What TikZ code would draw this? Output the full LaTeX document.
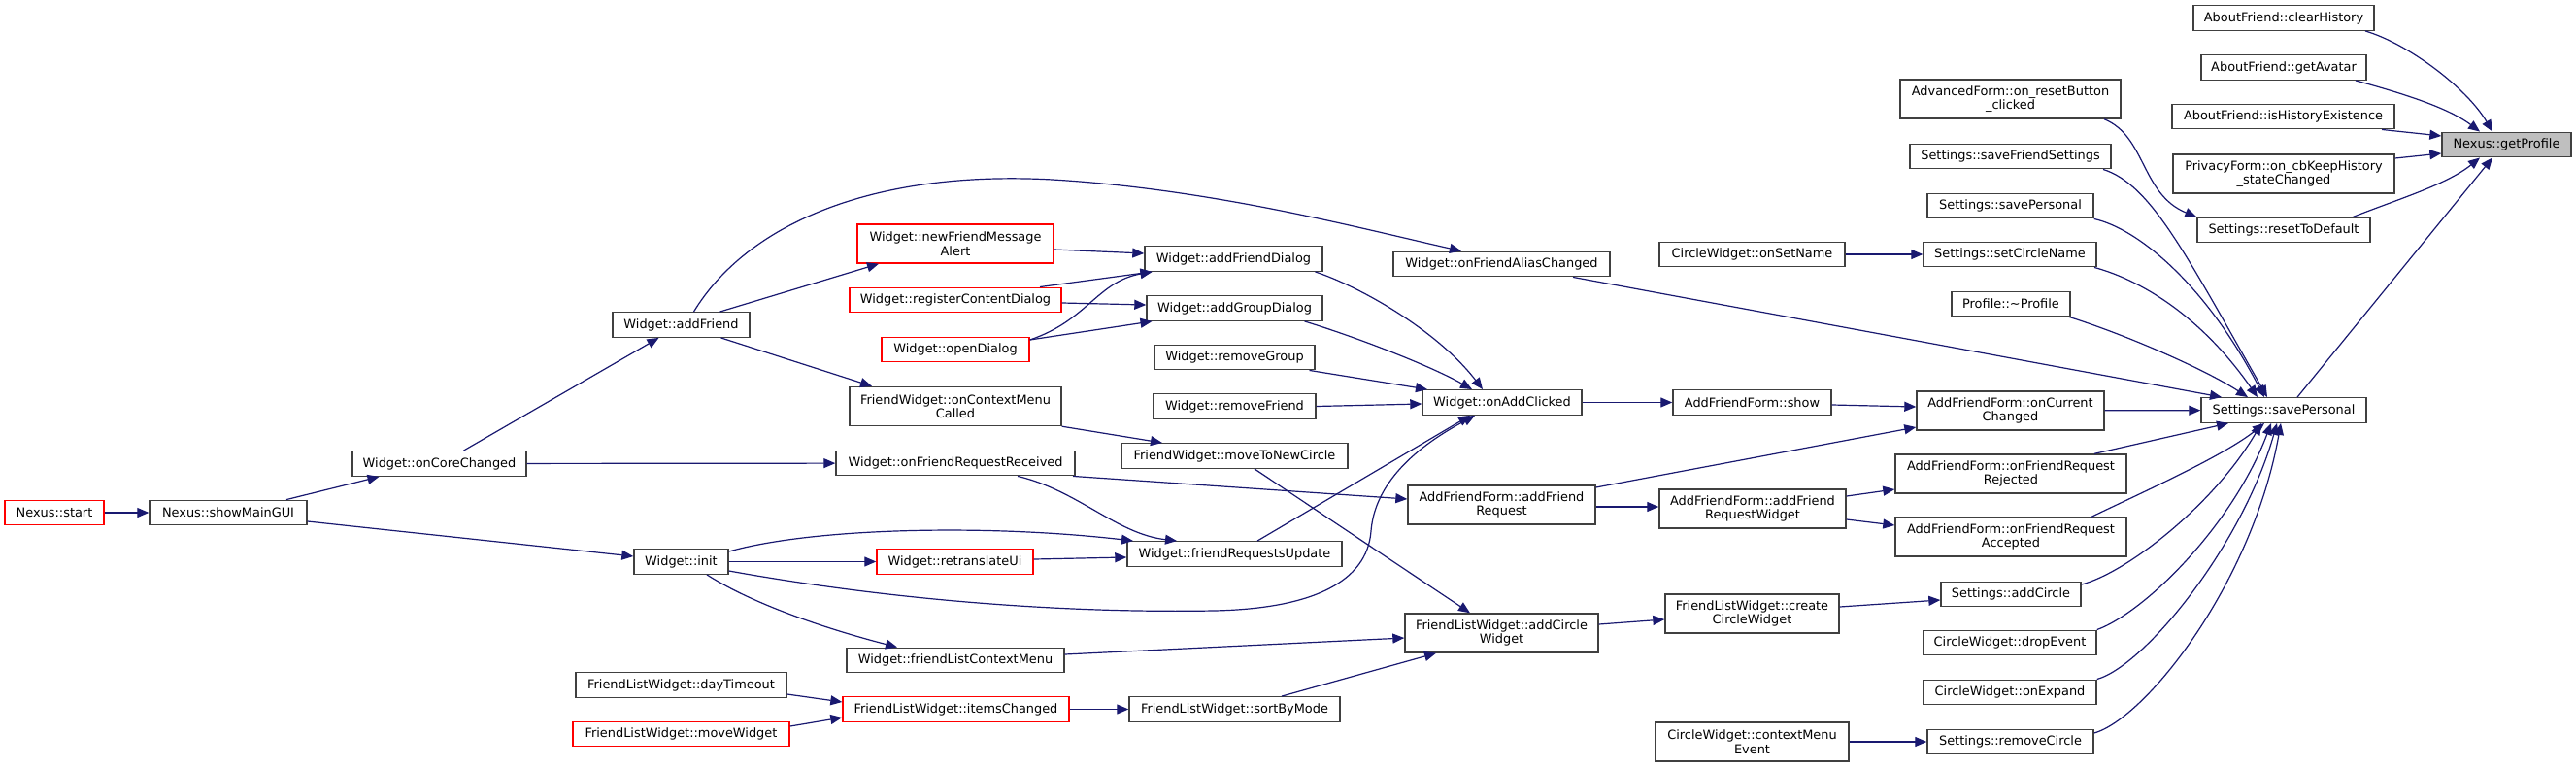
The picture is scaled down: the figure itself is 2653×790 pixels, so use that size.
\documentclass[tikz,border=0pt]{standalone}
\usepackage{fontspec}
\setmainfont{DejaVu Sans}
\usetikzlibrary{arrows.meta}
\definecolor{edgecol}{HTML}{191970}
\definecolor{nodeborder}{HTML}{404040}
\definecolor{hlfill}{HTML}{BFBFBF}
\begin{document}
\begin{tikzpicture}[x=1pt,y=-1pt,
  fn/.style={draw=nodeborder, fill=white, line width=1.4pt, inner sep=0pt, align=center, font=\fontsize{12.9}{14.5}\selectfont},
  fnred/.style={fn, draw=red},
  fnhl/.style={fn, fill=hlfill},
  sone/.style={minimum height=25.5pt},
  stwo/.style={minimum height=40pt},
  call/.style={draw=edgecol, line width=1.2pt, -{Triangle[length=12pt,width=10pt]}},
]
\useasboundingbox[fill=white] (0,0) rectangle (2653,790);

% column 1-4
\node[fnred,sone,minimum width=102] (start) at (56,528) {Nexus::start};
\node[fn,sone,minimum width=162] (showmain) at (235,528) {Nexus::showMainGUI};
\node[fn,sone,minimum width=179] (corechg) at (452.5,477.5) {Widget::onCoreChanged};
\node[fn,sone,minimum width=141] (addfriend) at (701.5,334.5) {Widget::addFriend};
\node[fn,sone,minimum width=97] (init) at (701.5,578.5) {Widget::init};
\node[fn,sone,minimum width=217] (daytimeout) at (701.5,705.5) {FriendListWidget::dayTimeout};
\node[fnred,sone,minimum width=223] (movewidget) at (701.5,756) {FriendListWidget::moveWidget};
% column 5
\node[fnred,stwo,minimum width=202] (newfma) at (984,251) {Widget::newFriendMessage\\Alert};
\node[fnred,sone,minimum width=218] (regcd) at (984,309) {Widget::registerContentDialog};
\node[fnred,sone,minimum width=152] (opendlg) at (984,360) {Widget::openDialog};
\node[fn,stwo,minimum width=218] (oncmc) at (984,418.5) {FriendWidget::onContextMenu\\Called};
\node[fn,sone,minimum width=246] (onfrr) at (984,477) {Widget::onFriendRequestReceived};
\node[fnred,sone,minimum width=161] (retrans) at (983.5,578.5) {Widget::retranslateUi};
\node[fn,sone,minimum width=224] (flcm) at (984,680) {Widget::friendListContextMenu};
\node[fnred,sone,minimum width=233] (itemschg) at (984.5,730.5) {FriendListWidget::itemsChanged};
% column 6
\node[fn,sone,minimum width=183] (afdlg) at (1270.5,266.5) {Widget::addFriendDialog};
\node[fn,sone,minimum width=181] (agdlg) at (1271.5,317.5) {Widget::addGroupDialog};
\node[fn,sone,minimum width=165] (rmgroup) at (1271.5,368) {Widget::removeGroup};
\node[fn,sone,minimum width=167] (rmfriend) at (1271.5,418.5) {Widget::removeFriend};
\node[fn,sone,minimum width=233] (movetonc) at (1271.5,469.5) {FriendWidget::moveToNewCircle};
\node[fn,sone,minimum width=221] (fru) at (1271.5,570.5) {Widget::friendRequestsUpdate};
\node[fn,sone,minimum width=217] (sortmode) at (1271.5,730.5) {FriendListWidget::sortByMode};
% column 7
\node[fn,sone,minimum width=223] (onfac) at (1546.5,272) {Widget::onFriendAliasChanged};
\node[fn,sone,minimum width=164] (onaddclk) at (1547,414.5) {Widget::onAddClicked};
\node[fn,stwo,minimum width=193] (afreq) at (1546.5,520) {AddFriendForm::addFriend\\Request};
\node[fn,stwo,minimum width=199] (addcw) at (1546.5,652) {FriendListWidget::addCircle\\Widget};
% column 8
\node[fn,sone,minimum width=191] (onsetname) at (1804.5,262) {CircleWidget::onSetName};
\node[fn,sone,minimum width=163] (afshow) at (1804.5,414.5) {AddFriendForm::show};
\node[fn,stwo,minimum width=192] (afrw) at (1805,524) {AddFriendForm::addFriend\\RequestWidget};
\node[fn,stwo,minimum width=179] (createcw) at (1804.5,632) {FriendListWidget::create\\CircleWidget};
\node[fn,stwo,minimum width=199] (cmevent) at (1804.5,764) {CircleWidget::contextMenu\\Event};
% column 9
\node[fn,stwo,minimum width=227] (advreset) at (2070.5,102) {AdvancedForm::on\_resetButton\\\_clicked};
\node[fn,sone,minimum width=207] (savefs) at (2070.5,161) {Settings::saveFriendSettings};
\node[fn,sone,minimum width=171] (savepu) at (2070.5,212) {Settings::savePersonal};
\node[fn,sone,minimum width=178] (setcn) at (2070,262) {Settings::setCircleName};
\node[fn,sone,minimum width=122] (profile) at (2071,313) {Profile::\textasciitilde Profile};
\node[fn,stwo,minimum width=193] (oncurchg) at (2070.5,423) {AddFriendForm::onCurrent\\Changed};
\node[fn,stwo,minimum width=238] (rejected) at (2071,488) {AddFriendForm::onFriendRequest\\Rejected};
\node[fn,stwo,minimum width=238] (accepted) at (2071,553) {AddFriendForm::onFriendRequest\\Accepted};
\node[fn,sone,minimum width=144] (addcircle) at (2071,612) {Settings::addCircle};
\node[fn,sone,minimum width=178] (dropev) at (2070,662) {CircleWidget::dropEvent};
\node[fn,sone,minimum width=178] (onexpand) at (2070,713) {CircleWidget::onExpand};
\node[fn,sone,minimum width=171] (rmcircle) at (2070.5,764) {Settings::removeCircle};
% column 10
\node[fn,sone,minimum width=186] (clearhist) at (2352,18.5) {AboutFriend::clearHistory};
\node[fn,sone,minimum width=170] (getavatar) at (2352,69.5) {AboutFriend::getAvatar};
\node[fn,sone,minimum width=229] (ishist) at (2351.5,120) {AboutFriend::isHistoryExistence};
\node[fn,stwo,minimum width=228] (privacy) at (2352,179) {PrivacyForm::on\_cbKeepHistory\\\_stateChanged};
\node[fn,sone,minimum width=178] (resetdef) at (2352,237) {Settings::resetToDefault};
\node[fn,sone,minimum width=170] (savep) at (2352,422.5) {Settings::savePersonal};
% column 11
\node[fnhl,sone,minimum width=133] (getprofile) at (2581.5,149) {Nexus::getProfile};

% edges
\draw[call] (start) -- (showmain);
\draw[call] ([xshift=60]showmain.north) -- ([xshift=-62]corechg.south);
\draw[call] ([yshift=-9]showmain.east) -- ([yshift=5.5]init.west);
\draw[call] ([xshift=25]corechg.north) -- ([xshift=-23]addfriend.south);
\draw[call] (corechg) -- (onfrr);
\draw[call] ([xshift=13]addfriend.north) .. controls (770,230) and (900,175) .. (1084,185) .. controls (1250,195) and (1400,235) .. ([xshift=-41.5]onfac.north);
\draw[call] ([xshift=40]addfriend.north) -- ([xshift=-79]newfma.south);
\draw[call] ([xshift=41]addfriend.south) -- ([xshift=-86]oncmc.north);
\draw[call] ([yshift=-6]newfma.east) -- ([yshift=5.5]afdlg.west);
\draw[call] ([xshift=87]regcd.north) -- ([xshift=-84]afdlg.south);
\draw[call] ([yshift=-3]regcd.east) -- ([yshift=3.5]agdlg.west);
\draw[call] ([yshift=10]opendlg.east) .. controls (1120,330) and (1130,290) .. ([xshift=-84]afdlg.south);
\draw[call] ([yshift=10]opendlg.east) -- ([xshift=-85]agdlg.south);
\draw[call] ([xshift=84]afdlg.south) .. controls (1400,295) and (1480,340) .. ([xshift=-20]onaddclk.north);
\draw[call] ([xshift=72]agdlg.south) .. controls (1390,345) and (1470,375) .. ([xshift=-31]onaddclk.north);
\draw[call] ([xshift=77]rmgroup.south) -- ([xshift=-77]onaddclk.north);
\draw[call] (rmfriend.east) -- ([yshift=-1.5]onaddclk.west);
\draw[call] (oncmc.south east) -- ([xshift=-74.5]movetonc.north);
\draw[call] ([xshift=121]onfrr.south) -- ([yshift=6]afreq.west);
\draw[call] ([xshift=64]onfrr.south) .. controls (1110,505) and (1150,550) .. ([xshift=-59.5]fru.north);
\draw[call] ([xshift=20.5]movetonc.south) -- ([xshift=-32.5]addcw.north);
\draw[call] ([xshift=23.5]fru.north) -- ([xshift=-33]onaddclk.south);
\draw[call] ([yshift=10.5]init.east) .. controls (840,543) and (1020,540) .. ([xshift=-104.5]fru.north);
\draw[call] (init) -- (retrans);
\draw[call] ([yshift=2.5]retrans.east) -- ([yshift=-3.5]fru.west);
\draw[call] ([yshift=-9.5]init.east) .. controls (900,615) and (1080,632) .. (1250,629) .. controls (1350,627) and (1408,600) .. (1412,547) .. controls (1415,510) and (1440,470) .. ([xshift=-28]onaddclk.south);
\draw[call] ([xshift=26.5]init.south) .. controls (780,625) and (860,650) .. ([xshift=-60]flcm.north);
\draw[call] ([yshift=6]flcm.east) -- ([yshift=-5]addcw.west);
\draw[call] ([yshift=-9.5]daytimeout.east) -- ([yshift=7.5]itemschg.west);
\draw[call] ([yshift=8]movewidget.east) -- ([yshift=-8.5]itemschg.west);
\draw[call] (itemschg) -- (sortmode);
\draw[call] ([xshift=48.5]sortmode.north) -- ([xshift=-67.5]addcw.south);
\draw[call] (onaddclk) -- (afshow);
\draw[call] ([yshift=18]afreq.east) -- ([yshift=-17]oncurchg.west);
\draw[call] ([yshift=-2]afreq.east) -- ([yshift=2]afrw.west);
\draw[call] ([yshift=-2.5]afshow.east) -- ([yshift=4]oncurchg.west);
\draw[call] ([yshift=13]afrw.east) -- ([yshift=-16]rejected.west);
\draw[call] ([yshift=-11]afrw.east) -- ([yshift=12]accepted.west);
\draw[call] ([xshift=73.5]onfac.south) -- ([xshift=-64]savep.north);
\draw[call] ([yshift=9]addcw.east) -- ([yshift=-6]createcw.west);
\draw[call] ([yshift=7]createcw.east) -- ([yshift=-6]addcircle.west);
\draw[call] (cmevent) -- (rmcircle);
\draw[call] (onsetname) -- (setcn);
\draw[call] (oncurchg) -- (savep);
\draw[call] ([xshift=86]rejected.north) -- ([xshift=-57]savep.south);
\draw[call] ([xshift=83]accepted.north) .. controls (2200,510) and (2290,470) .. ([xshift=-20]savep.south);
\draw[call] ([yshift=10]addcircle.east) .. controls (2190,590) and (2280,520) .. ([xshift=-23]savep.south);
\draw[call] (dropev.north east) .. controls (2210,630) and (2300,540) .. ([xshift=-13]savep.south);
\draw[call] (onexpand.north east) .. controls (2210,685) and (2310,560) .. ([xshift=-7]savep.south);
\draw[call] ([yshift=9]rmcircle.east) .. controls (2210,740) and (2320,600) .. ([xshift=-3]savep.south);
\draw[call] ([xshift=95.5]savefs.south) .. controls (2215,190) and (2250,260) .. ([xshift=-17]savep.north);
\draw[call] (savepu.south east) .. controls (2200,235) and (2270,290) .. ([xshift=-20]savep.north);
\draw[call] ([xshift=87]setcn.south) .. controls (2210,290) and (2270,330) .. ([xshift=-27]savep.north);
\draw[call] ([xshift=60]profile.south) .. controls (2190,345) and (2270,380) .. ([xshift=-37]savep.north);
\draw[call] ([xshift=14]savep.north) -- ([xshift=-14.5]getprofile.south);
\draw[call] ([xshift=96.5]advreset.south) .. controls (2210,140) and (2205,200) .. (resetdef.north west);
\draw[call] ([xshift=84]clearhist.south) .. controls (2480,45) and (2540,90) .. ([xshift=-14.5]getprofile.north);
\draw[call] ([xshift=74]getavatar.south) .. controls (2470,95) and (2520,110) .. ([xshift=-27.5]getprofile.north);
\draw[call] ([xshift=101.5]ishist.south) -- ([yshift=9]getprofile.west);
\draw[call] ([yshift=16]privacy.east) -- ([yshift=-9]getprofile.west);
\draw[call] ([xshift=71]resetdef.north) .. controls (2470,205) and (2520,190) .. ([xshift=-27.5]getprofile.south);
\end{tikzpicture}
\end{document}
